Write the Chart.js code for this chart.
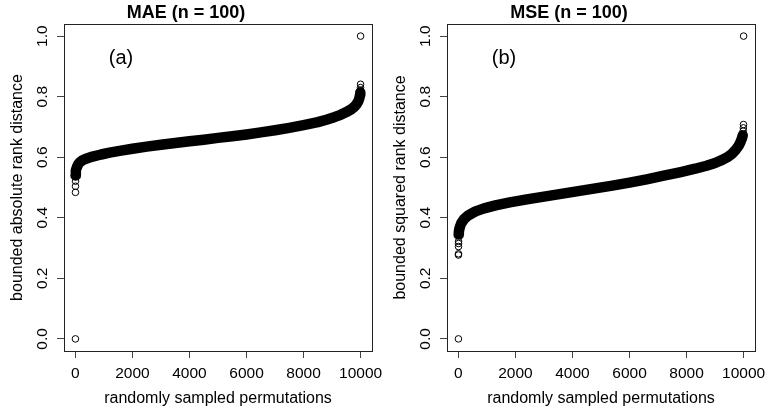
<!DOCTYPE html>
<html>
<head>
<meta charset="utf-8">
<script src="https://cdn.jsdelivr.net/npm/chart.js@4.4.1/dist/chart.umd.min.js"></script>
<style>
    html, body { margin: 0; padding: 0; background: #fff; }
    #wrap { display: flex; width: 766px; height: 414px; }
    canvas { display: block; }
</style>
</head>
<body>
<div id="wrap">
    <canvas id="chart-mae" width="383" height="414"></canvas>
    <canvas id="chart-mse" width="383" height="414"></canvas>
</div>
<script>
// sorted distances of 10000 sampled permutations
const maeRank = [5, 10, 20, 40, 70, 100, 150, 250, 400, 600, 900, 1200, 1600, 2000, 2500, 3000, 3500, 4000, 4500, 5000,
    5500, 6000, 6500, 7000, 7500, 8000, 8500, 8800, 9100, 9300, 9500, 9650, 9750, 9850, 9920, 9960, 9980, 9990];
const maeDist = [0.540, 0.548, 0.556, 0.564, 0.571, 0.577, 0.583, 0.590, 0.596, 0.602, 0.609, 0.615, 0.622, 0.628, 0.635, 0.641, 0.647, 0.653, 0.658, 0.664,
    0.669, 0.675, 0.682, 0.689, 0.697, 0.706, 0.716, 0.724, 0.733, 0.740, 0.749, 0.757, 0.764, 0.774, 0.785, 0.796, 0.806, 0.814];
// isolated points at both ends
const maeTailRank = [1, 2, 3, 4, 9996, 9998, 9999, 10000];
const maeTailDist = [0.000, 0.484, 0.504, 0.521, 0.822, 0.830, 0.841, 1.000];

const mseRank = [8, 15, 30, 60, 100, 200, 350, 600, 900, 1300, 1800, 2400, 3000, 3600, 4200, 4800, 5400, 6000,
    6600, 7200, 7800, 8300, 8700, 9000, 9250, 9450, 9600, 9720, 9820, 9890, 9940, 9970];
const mseDist = [0.345, 0.352, 0.362, 0.372, 0.382, 0.396, 0.408, 0.421, 0.431, 0.441, 0.451, 0.461, 0.470, 0.479, 0.488, 0.497, 0.506, 0.516,
    0.527, 0.539, 0.551, 0.562, 0.572, 0.581, 0.591, 0.601, 0.612, 0.624, 0.637, 0.650, 0.662, 0.672];
const mseTailRank = [1, 2, 3, 4, 5, 6, 9985, 9992, 9996, 10000];
const mseTailDist = [0.000, 0.277, 0.281, 0.305, 0.315, 0.322, 0.686, 0.697, 0.708, 1.000];

const xTicks = [0, 2000, 4000, 6000, 8000, 10000];
const yTicks = [0.0, 0.2, 0.4, 0.6, 0.8, 1.0];
const TAG_X = 1600;
const TAG_Y = 0.925;

const FONT = '"Liberation Sans", Arial, Helvetica, sans-serif';
const TICK_SIZE = 15.5;

// R-like frame: full box, vertical y tick labels, panel tag
const rFrame = {
    id: 'rFrame',
    afterDraw(chart, args, opts) {
        const { ctx, chartArea: a, scales: { x, y } } = chart;
        ctx.save();
        ctx.strokeStyle = '#222';
        ctx.lineWidth = 1;
        ctx.strokeRect(Math.round(a.left) + 0.5, Math.round(a.top) + 0.5,
            Math.round(a.right - a.left), Math.round(a.bottom - a.top));

        ctx.fillStyle = '#000';
        ctx.font = `${TICK_SIZE}px ${FONT}`;
        ctx.textAlign = 'center';
        ctx.textBaseline = 'alphabetic';
        y.ticks.forEach(t => {
            const py = y.getPixelForValue(t.value);
            ctx.save();
            ctx.translate(y.right - 17, py);
            ctx.rotate(-Math.PI / 2);
            ctx.fillText(t.value.toFixed(1), 0, 0);
            ctx.restore();
        });

        ctx.font = `20px ${FONT}`;
        ctx.textBaseline = 'middle';
        ctx.fillText(opts.tag, x.getPixelForValue(TAG_X), y.getPixelForValue(TAG_Y));
        ctx.restore();
    },
};

function makePanel(canvasId, title, tag, yLabel, rank, dist, tailRank, tailDist) {
    const canvas = document.getElementById(canvasId);
    const band = rank.map((r, i) => ({ x: r, y: dist[i] }));
    const tail = tailRank.map((r, i) => ({ x: r, y: tailDist[i] }));
    const pointStyle = {
        pointRadius: 3.3,
        pointBorderWidth: 1,
        pointBorderColor: '#000',
        pointBackgroundColor: 'rgba(0,0,0,0)',
    };
    return new Chart(canvas.getContext('2d'), {
        type: 'scatter',
        data: {
            datasets: [
                {
                    data: band,
                    showLine: true,
                    borderColor: '#000',
                    borderWidth: 10.5,
                    borderCapStyle: 'round',
                    borderJoinStyle: 'round',
                    tension: 0,
                    ...pointStyle,
                },
                { data: tail, showLine: false, ...pointStyle },
            ],
        },
        plugins: [rFrame],
        options: {
            responsive: false,
            animation: false,
            events: [],
            layout: { padding: { top: 0, right: 11, bottom: 0, left: 0 } },
            plugins: {
                legend: { display: false },
                tooltip: { enabled: false },
                title: {
                    display: true,
                    text: title,
                    color: '#000',
                    font: { family: FONT, size: 18, weight: 'bold', lineHeight: 1.2 },
                    padding: { top: 2.4, bottom: 0 },
                },
                rFrame: { tag },
            },
            scales: {
                x: {
                    type: 'linear',
                    min: -399.96,
                    max: 10399.96,
                    afterBuildTicks: s => { s.ticks = xTicks.map(v => ({ value: v })); },
                    afterFit: s => { s.height = 63; s.paddingLeft = 0; s.paddingRight = 0; },
                    grid: { display: true, drawOnChartArea: false, drawTicks: true, tickLength: 7, color: '#444', lineWidth: 1 },
                    border: { display: false },
                    ticks: {
                        autoSkip: false,
                        maxRotation: 0,
                        padding: 6,
                        color: '#000',
                        font: { family: FONT, size: TICK_SIZE },
                        callback: v => String(v),
                    },
                    title: {
                        display: true,
                        text: 'randomly sampled permutations',
                        color: '#000',
                        font: { family: FONT, size: 16, lineHeight: 1.2 },
                        padding: { top: 0, bottom: 6 },
                    },
                },
                y: {
                    type: 'linear',
                    min: -0.04,
                    max: 1.04,
                    afterBuildTicks: s => { s.ticks = yTicks.map(v => ({ value: v })); },
                    afterFit: s => { s.width = 64; s.paddingTop = 0; s.paddingBottom = 0; },
                    grid: { display: true, drawOnChartArea: false, drawTicks: true, tickLength: 7, color: '#444', lineWidth: 1 },
                    border: { display: false },
                    ticks: { display: false },
                    title: {
                        display: true,
                        text: yLabel,
                        color: '#000',
                        font: { family: FONT, size: 16, lineHeight: 1.2 },
                        padding: { top: 8, bottom: 0 },
                    },
                },
            },
        },
    });
}

makePanel('chart-mae', 'MAE (n = 100)', '(a)', 'bounded absolute rank distance',
    maeRank, maeDist, maeTailRank, maeTailDist);
makePanel('chart-mse', 'MSE (n = 100)', '(b)', 'bounded squared rank distance',
    mseRank, mseDist, mseTailRank, mseTailDist);
</script>
</body>
</html>
